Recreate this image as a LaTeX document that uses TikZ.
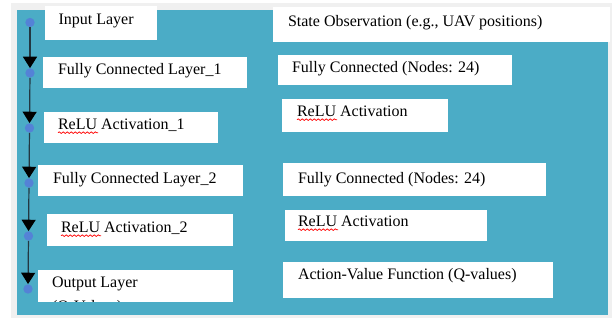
\documentclass[tikz,border=0pt]{standalone}
\usepackage{fontspec}
\setmainfont{Liberation Serif}
\usetikzlibrary{arrows.meta,decorations.pathmorphing}
\definecolor{teal5}{RGB}{75,172,198}
\definecolor{framegray}{RGB}{240,240,240}
\definecolor{dotblue}{RGB}{84,130,214}
\definecolor{linec}{RGB}{35,55,65}
\newcommand\wb[5]{\node[wbox,minimum width={(#4-#2)*0.75pt},minimum height={(#5-#3)*0.75pt}] (#1) at (#2,#3) {};}
\begin{document}
\begin{tikzpicture}[x=0.75pt,y=-0.75pt,font=\fontsize{12}{15}\selectfont,
  wbox/.style={fill=white,draw=none,inner sep=0pt,outer sep=0pt,anchor=north west},
  txt/.style={inner sep=0pt,outer sep=0pt,anchor=base west,text=black},
  dotnode/.style={circle,fill=dotblue,draw=none,inner sep=0pt,minimum size=7pt},
  flow/.style={draw=linec,line width=0.9pt,-{Triangle[width=10.5pt,length=8.5pt,black]}},
  spell/.style={draw=red,line width=0.55pt,decorate,decoration={snake,amplitude=0.6pt,segment length=3pt}}]
\useasboundingbox (0,0) rectangle (614,320);
\fill[white] (0,0) rectangle (614,320);
\fill[framegray] (11,3) rectangle (612,318);
\fill[teal5] (17,10) rectangle (608,315);

% left column boxes
\wb{L1}{45}{6}{157}{40}
\wb{L2}{43}{57}{247}{88}
\wb{L3}{44}{112}{218}{143}
\wb{L4}{38}{165}{243}{196}
\wb{L5}{47}{214}{233}{246}
\wb{L6}{38}{270}{233}{302}
% right column boxes
\wb{R1}{273}{7}{610}{42}
\wb{R2}{278}{55}{512}{85}
\wb{R3}{282}{99}{448}{132}
\wb{R4}{283}{163}{546}{196}
\wb{R5}{285}{210}{487}{241}
\wb{R6}{283}{262}{553}{298}

% texts
\node[txt] (tl1) at (58.5,25) {Input Layer};
\node[txt] (tl2) at (58,75) {Fully Connected Layer\_1};
\node[txt] (tl3) at (58,130) {ReLU Activation\_1};
\node[txt] (tl4) at (53,184) {Fully Connected Layer\_2};
\node[txt] (tl5) at (61,233) {ReLU Activation\_2};
\node[txt] (tl6) at (52,288) {Output Layer};
\begin{scope}
  \clip (L6.north west) rectangle (L6.south east);
  \node[txt] (tl6b) at (52,311) {(Q-Values)};
\end{scope}

\node[txt] (tr1) at (288,27) {State Observation (e.g., UAV positions)};
\node[txt] (tr2) at (292,73) {Fully Connected (Nodes: 24)};
\node[txt] (tr3) at (297,117) {ReLU Activation};
\node[txt] (tr4) at (298,184) {Fully Connected (Nodes: 24)};
\node[txt] (tr5) at (298,227) {ReLU Activation};
\node[txt] (tr6) at (298,280) {Action-Value Function (Q-values)};

% spell-check underlines
\draw[spell] ([yshift=-2pt]tl3.base west) -- ++(40,0);
\draw[spell] ([yshift=-2pt]tl5.base west) -- ++(40,0);
\draw[spell] ([yshift=-2pt]tr3.base west) -- ++(40,0);
\draw[spell] ([yshift=-2pt]tr5.base west) -- ++(40,0);

% flow dots and arrows
\node[dotnode] (d1) at (30,22.5) {};
\node[dotnode] (d2) at (30,73) {};
\node[dotnode] (d3) at (29.5,128) {};
\node[dotnode] (d4) at (29,183) {};
\node[dotnode] (d5) at (28.5,236) {};
\node[dotnode] (d6) at (28,289) {};
\draw[flow] (d1) -- (d2);
\draw[flow] (d2) -- (d3);
\draw[flow] (d3) -- (d4);
\draw[flow] (d4) -- (d5);
\draw[flow] (d5) -- (d6);
\end{tikzpicture}
\end{document}
